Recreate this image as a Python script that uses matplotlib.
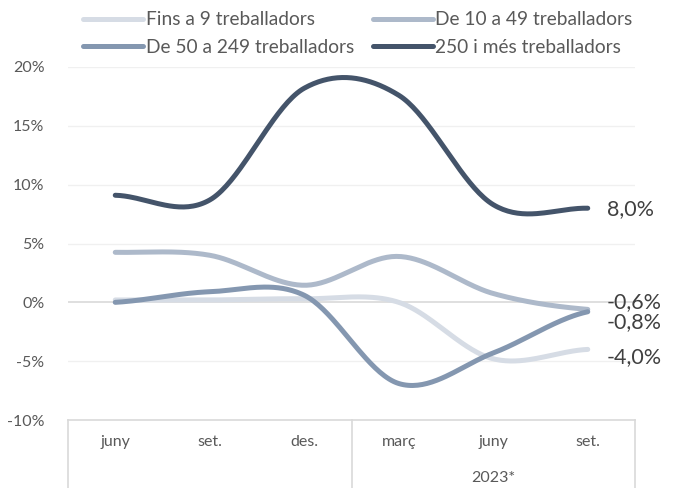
import numpy as np
import matplotlib
matplotlib.use("Agg")
import matplotlib.pyplot as plt

plt.rcParams['font.family'] = ['Lato', 'DejaVu Sans']

categories = ["juny", "set.", "des.", "març", "juny", "set."]
group_label = "2023*"
series_names = ["Fins a 9 treballadors", "De 10 a 49 treballadors",
                "De 50 a 249 treballadors", "250 i més treballadors"]
fins9 = [0.2, 0.2, 0.3, 0.0, -4.8, -4.0]
de10_49 = [4.25, 4.0, 1.45, 3.9, 0.75, -0.6]
de50_249 = [0.0, 0.9, 0.6, -6.9, -4.3, -0.8]
mes250 = [9.1, 8.7, 18.2, 17.6, 8.3, 8.0]
end_labels = ["-4,0%", "-0,6%", "-0,8%", "8,0%"]
yticks = [-10, -5, 0, 5, 10, 15, 20]
colors = ["#d6dce5", "#adb9ca", "#8497b0", "#44546a"]


def smooth(y, n=40):
    y = np.asarray(y, float)
    x = np.arange(len(y), dtype=float)
    m = np.zeros_like(y)
    m[1:-1] = (y[2:] - y[:-2]) / 2
    m[0] = (y[1] - y[0]) / 2
    m[-1] = (y[-1] - y[-2]) / 2
    xs, ys = [], []
    for i in range(len(y) - 1):
        t = np.linspace(0, 1, n, endpoint=(i == len(y) - 2))
        h00 = 2 * t**3 - 3 * t**2 + 1
        h10 = t**3 - 2 * t**2 + t
        h01 = -2 * t**3 + 3 * t**2
        h11 = t**3 - t**2
        xs.append(x[i] + t)
        ys.append(h00 * y[i] + h10 * m[i] + h01 * y[i + 1] + h11 * m[i + 1])
    return np.concatenate(xs), np.concatenate(ys)


fig = plt.figure(figsize=(6.81, 4.88), dpi=100)
ax = fig.add_axes([68 / 681, 1 - 420 / 488, (635 - 68) / 681, (420 - 67) / 488])

data = [fins9, de10_49, de50_249, mes250]
handles = []
for vals, c, name in zip(data, colors, series_names):
    xs, ys = smooth(vals)
    ln, = ax.plot(xs, ys, color=c, lw=3.6, solid_capstyle='round', label=name, zorder=3)
    handles.append(ln)

ax.set_xlim(-0.5, 5.5)
ax.set_ylim(-10, 20)
ax.set_yticks(yticks)
ax.set_yticklabels([f"{v}%" for v in yticks])
for v in yticks:
    if v == 0:
        ax.axhline(0, color="#d9d9d9", lw=1.2, zorder=1)
    elif v != -10:
        ax.axhline(v, color="#f0f0f0", lw=1.0, zorder=0)
for s in ax.spines.values():
    s.set_visible(False)
ax.tick_params(axis='y', length=0, labelsize=11.5, labelcolor="#595959", pad=17)
ax.set_xticks([])

# category axis box
ax.axhline(-10, color="#d9d9d9", lw=1.2, clip_on=False)
for xb in [-0.5, 2.5, 5.5]:
    ax.plot([xb, xb], [-10, -10 - 68 / 353 * 30], color="#d9d9d9", lw=1.2, clip_on=False)
for i, lab in enumerate(categories):
    ax.text(i, -10 - 22 / 353 * 30, lab, ha='center', va='center', fontsize=11.5, color="#595959")
ax.text(4, -10 - 58 / 353 * 30, group_label, ha='center', va='center', fontsize=11.5, color="#595959")

# end labels
lab_pos = [(fins9[-1], end_labels[0], -0.65), (de10_49[-1], end_labels[1], 0.6),
           (de50_249[-1], end_labels[2], -0.9), (mes250[-1], end_labels[3], -0.1)]
for yv, lab, dy in lab_pos:
    ax.text(5.2, yv + dy, lab, ha='left', va='center', fontsize=15.5, color="#404040", clip_on=False)

order = [0, 2, 1, 3]
leg = fig.legend([handles[i] for i in order], [series_names[i] for i in order],
                 ncol=2, loc='upper left', bbox_to_anchor=(70 / 681, 1 + 2 / 488),
                 frameon=False, fontsize=13.8, handlelength=3.1, handletextpad=0.15,
                 columnspacing=1.0, labelspacing=0.55, borderpad=0.2)
for t in leg.get_texts():
    t.set_color("#595959")

fig.savefig("out.png", dpi=100)
